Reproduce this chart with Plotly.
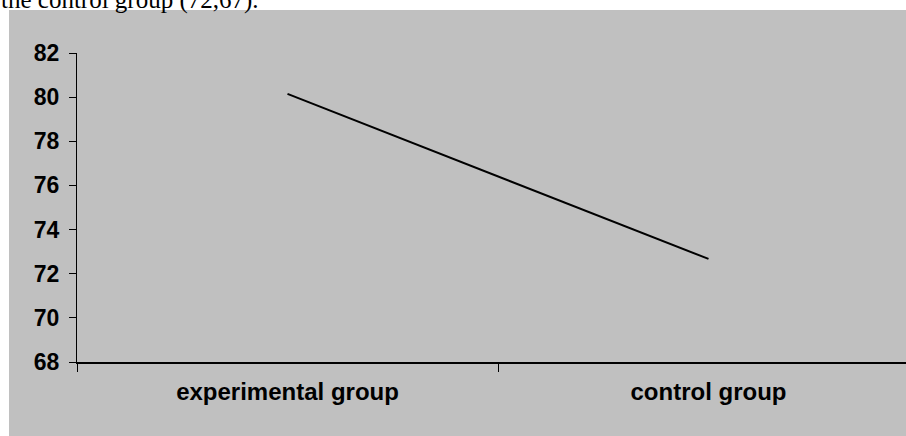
import plotly.graph_objects as go

# Mean scores per group
groups = ["experimental group", "control group"]
means = [80.15, 72.67]

y_ticks = [68, 70, 72, 74, 76, 78, 80, 82]

W, H = 906, 436
L, R, T, B = 77, 0, 53, 74
pw = W - L - R
ph = H - T - B


def px_x(p):
    return (p - L) / pw


def px_y(p):
    return (H - B - p) / ph


GRAY = "#c0c0c0"

fig = go.Figure()
fig.add_trace(go.Scatter(
    x=groups, y=means, mode="lines",
    line=dict(color="#000000", width=2),
    hoverinfo="skip", showlegend=False,
))

# gray chart panel below the caption strip
fig.add_shape(type="rect", xref="paper", yref="paper",
              x0=px_x(9), x1=px_x(W + 20), y0=px_y(H + 20), y1=px_y(10),
              fillcolor=GRAY, line=dict(width=0), layer="below")

# tail of the sentence above the chart
fig.add_annotation(text="the control group (72,67).", xref="paper", yref="paper",
                   x=px_x(-1), y=px_y(16), xanchor="left", yanchor="bottom",
                   showarrow=False,
                   font=dict(family="Liberation Serif", size=25, color="#000000"))

# each category occupies 421 px; only part of the second one is visible
cat_px = 421.0
fig.update_xaxes(
    type="category",
    range=[-0.5, -0.5 + pw / cat_px],
    showline=True, linecolor="#000000", linewidth=1.5,
    ticks="outside", tickson="boundaries", ticklen=8, tickcolor="#000000",
    showgrid=False, zeroline=False,
    tickfont=dict(family="Liberation Sans", size=24, color="#000000", weight="bold"),
    ticklabelstandoff=7,
)
fig.update_yaxes(
    range=[68, 82],
    tickvals=y_ticks,
    showline=True, linecolor="#000000", linewidth=1,
    ticks="outside", ticklen=7, tickcolor="#000000",
    showgrid=False, zeroline=False,
    tickfont=dict(family="Liberation Sans", size=23, color="#000000", weight="bold"),
    ticklabelstandoff=5,
)
fig.update_layout(
    width=W, height=H,
    margin=dict(l=L, r=R, t=T, b=B, pad=0),
    paper_bgcolor="#ffffff",
    plot_bgcolor=GRAY,
    showlegend=False,
)
fig.write_html("out.html")
